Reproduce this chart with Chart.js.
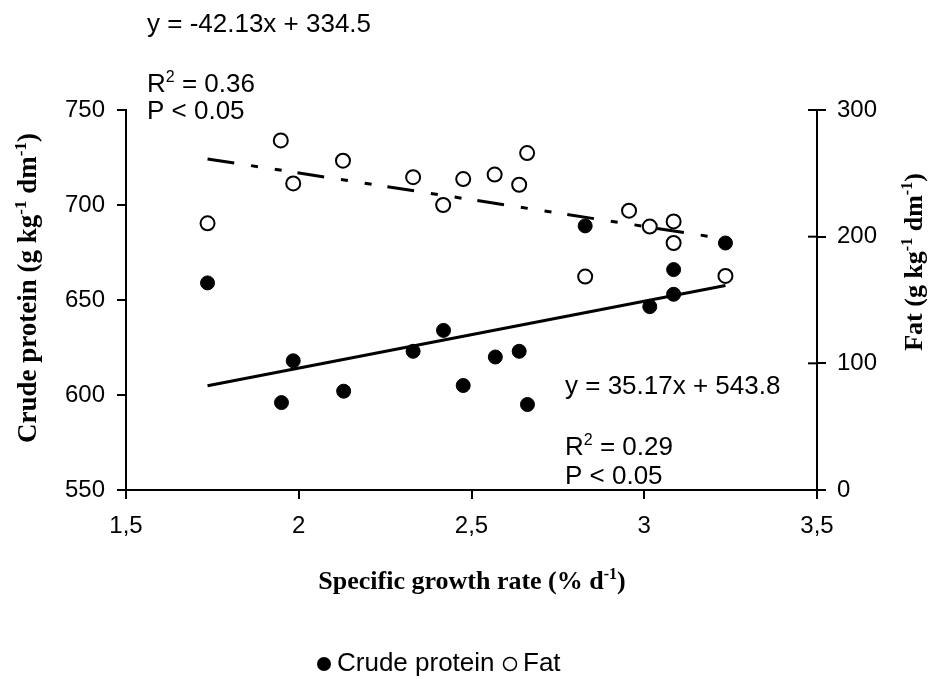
<!DOCTYPE html>
<html>
<head>
<meta charset="utf-8">
<script src="https://cdn.jsdelivr.net/npm/chart.js@4"></script>
<style>
  body { margin: 0; background: #fff; }
  canvas { display: block; }
</style>
</head>
<body>
<canvas id="growthChart" width="929" height="679"></canvas>
<script>
// values
const proteinX = [1.736, 1.950, 1.984, 2.130, 2.331, 2.419, 2.476, 2.569, 2.638, 2.662, 2.829, 3.016, 3.085, 3.085, 3.235];
const proteinY = [659, 596, 618, 602, 623, 634, 605, 620, 623, 595, 689, 646.5, 666, 653, 680];
const fatX = [1.736, 1.948, 1.984, 2.128, 2.331, 2.418, 2.476, 2.567, 2.638, 2.661, 2.829, 2.956, 3.016, 3.085, 3.085, 3.235];
const fatY = [210.5, 276, 242, 260, 247, 225, 245.5, 249, 241, 266, 168.5, 220.5, 208, 212, 195, 169];
// trend line end points (x, y)
const proteinTrendX = [1.736, 3.235];
const proteinTrendY = [604.9, 657.6];
const fatTrendX = [1.736, 3.235];
const fatTrendY = [261.4, 198.2];
const xTicks = [1.5, 2, 2.5, 3, 3.5];
const proteinTicks = [550, 600, 650, 700, 750];
const fatTicks = [0, 100, 200, 300];

const SANS = 'Arial, "Liberation Sans", sans-serif';
const SERIF = '"Times New Roman", "Liberation Serif", serif';

const toPoints = (xs, ys) => xs.map((x, i) => ({ x: x, y: ys[i] }));

// draws text made of normal and superscript pieces
function drawRuns(ctx, runs, x, y, size, family, weight, align) {
    const fontOf = (sup) => weight + ' ' + (sup ? Math.round(size * 0.62) : size) + 'px ' + family;
    let total = 0;
    runs.forEach((r) => {
        ctx.font = fontOf(r.sup);
        total += ctx.measureText(r.t).width;
    });
    let cx = align === 'center' ? x - total / 2 : x;
    ctx.textAlign = 'left';
    ctx.textBaseline = 'alphabetic';
    runs.forEach((r) => {
        ctx.font = fontOf(r.sup);
        ctx.fillText(r.t, cx, r.sup ? y - size * 0.38 : y);
        cx += ctx.measureText(r.t).width;
    });
}

const extras = {
    id: 'extras',
    afterDraw(chart) {
        const ctx = chart.ctx;
        const right = chart.scales.y1;
        ctx.save();
        ctx.fillStyle = '#000';
        ctx.strokeStyle = '#000';

        // inner half of the crossing ticks on the right axis
        ctx.lineWidth = 2;
        fatTicks.forEach((v) => {
            const py = right.getPixelForValue(v);
            ctx.beginPath();
            ctx.moveTo(right.left - 9, py);
            ctx.lineTo(right.left, py);
            ctx.stroke();
        });

        // regression labels
        const eq = 26;
        drawRuns(ctx, [{ t: 'y = -42.13x + 334.5' }], 147, 32, eq, SANS, 'normal', 'left');
        drawRuns(ctx, [{ t: 'R' }, { t: '2', sup: true }, { t: ' = 0.36' }], 147, 92, eq, SANS, 'normal', 'left');
        drawRuns(ctx, [{ t: 'P < 0.05' }], 147, 119, eq, SANS, 'normal', 'left');
        drawRuns(ctx, [{ t: 'y = 35.17x + 543.8' }], 565, 394, eq, SANS, 'normal', 'left');
        drawRuns(ctx, [{ t: 'R' }, { t: '2', sup: true }, { t: ' = 0.29' }], 565, 455, eq, SANS, 'normal', 'left');
        drawRuns(ctx, [{ t: 'P < 0.05' }], 565, 484, eq, SANS, 'normal', 'left');

        // axis titles
        drawRuns(ctx, [{ t: 'Specific growth rate (% d' }, { t: '-1', sup: true }, { t: ')' }],
            472, 589, 26, SERIF, 'bold', 'center');

        ctx.save();
        ctx.translate(36, 288);
        ctx.rotate(-Math.PI / 2);
        drawRuns(ctx, [{ t: 'Crude protein (g kg' }, { t: '-1', sup: true }, { t: ' dm' }, { t: '-1', sup: true }, { t: ')' }],
            0, 0, 27, SERIF, 'bold', 'center');
        ctx.restore();

        ctx.save();
        ctx.translate(922, 262);
        ctx.rotate(-Math.PI / 2);
        drawRuns(ctx, [{ t: 'Fat (g kg' }, { t: '-1', sup: true }, { t: ' dm' }, { t: '-1', sup: true }, { t: ')' }],
            0, 0, 26, SERIF, 'bold', 'center');
        ctx.restore();

        // legend
        const ly = 664;
        ctx.beginPath();
        ctx.arc(324, ly, 7, 0, Math.PI * 2);
        ctx.fill();
        ctx.font = '26px ' + SANS;
        ctx.textBaseline = 'middle';
        ctx.textAlign = 'left';
        ctx.fillText('Crude protein', 337, ly);
        ctx.beginPath();
        ctx.lineWidth = 1.5;
        ctx.arc(510, ly, 6.5, 0, Math.PI * 2);
        ctx.stroke();
        ctx.fillText('Fat', 523, ly);
        ctx.restore();
    }
};

const tickFont = { family: SANS, size: 24 };
const axisGrid = { drawOnChartArea: false, color: '#000', lineWidth: 2, tickLength: 9 };
const axisBorder = { color: '#000', width: 2 };

const config = {
    type: 'scatter',
    data: {
        datasets: [
            {
                label: 'Fat trend',
                data: toPoints(fatTrendX, fatTrendY),
                showLine: true,
                borderColor: '#000',
                borderWidth: 3,
                borderDash: [27, 17, 7, 17, 7, 16],
                pointRadius: 0,
                yAxisID: 'y1',
            },
            {
                label: 'Protein trend',
                data: toPoints(proteinTrendX, proteinTrendY),
                showLine: true,
                borderColor: '#000',
                borderWidth: 3,
                pointRadius: 0,
                yAxisID: 'y',
            },
            {
                label: 'Crude protein',
                data: toPoints(proteinX, proteinY),
                backgroundColor: '#000',
                borderColor: '#000',
                borderWidth: 1,
                pointRadius: 7,
                yAxisID: 'y',
            },
            {
                label: 'Fat',
                data: toPoints(fatX, fatY),
                backgroundColor: '#fff',
                borderColor: '#000',
                borderWidth: 2,
                pointRadius: 7,
                yAxisID: 'y1',
            },
        ],
    },
    options: {
        responsive: false,
        animation: false,
        layout: { padding: { top: 110, left: 0, right: 0, bottom: 0 } },
        plugins: {
            legend: { display: false },
            tooltip: { enabled: false },
        },
        scales: {
            x: {
                type: 'linear',
                min: 1.5,
                max: 3.5,
                afterBuildTicks: (s) => { s.ticks = xTicks.map((v) => ({ value: v })); },
                ticks: {
                    color: '#000',
                    font: tickFont,
                    padding: 13,
                    callback: (v) => String(v).replace('.', ','),
                },
                grid: axisGrid,
                border: axisBorder,
                afterFit: (s) => { s.height = 189; },
            },
            y: {
                position: 'left',
                min: 550,
                max: 750,
                afterBuildTicks: (s) => { s.ticks = proteinTicks.map((v) => ({ value: v })); },
                ticks: { color: '#000', font: tickFont, padding: 12 },
                grid: axisGrid,
                border: axisBorder,
                afterFit: (s) => { s.width = 126; },
            },
            y1: {
                position: 'right',
                min: 0,
                max: 300,
                afterBuildTicks: (s) => { s.ticks = fatTicks.map((v) => ({ value: v })); },
                ticks: { color: '#000', font: tickFont, padding: 11 },
                grid: axisGrid,
                border: axisBorder,
                afterFit: (s) => { s.width = 112; },
            },
        },
    },
    plugins: [extras],
};

const ctx = document.getElementById('growthChart').getContext('2d');
const growthChart = new Chart(ctx, config);
</script>
</body>
</html>
